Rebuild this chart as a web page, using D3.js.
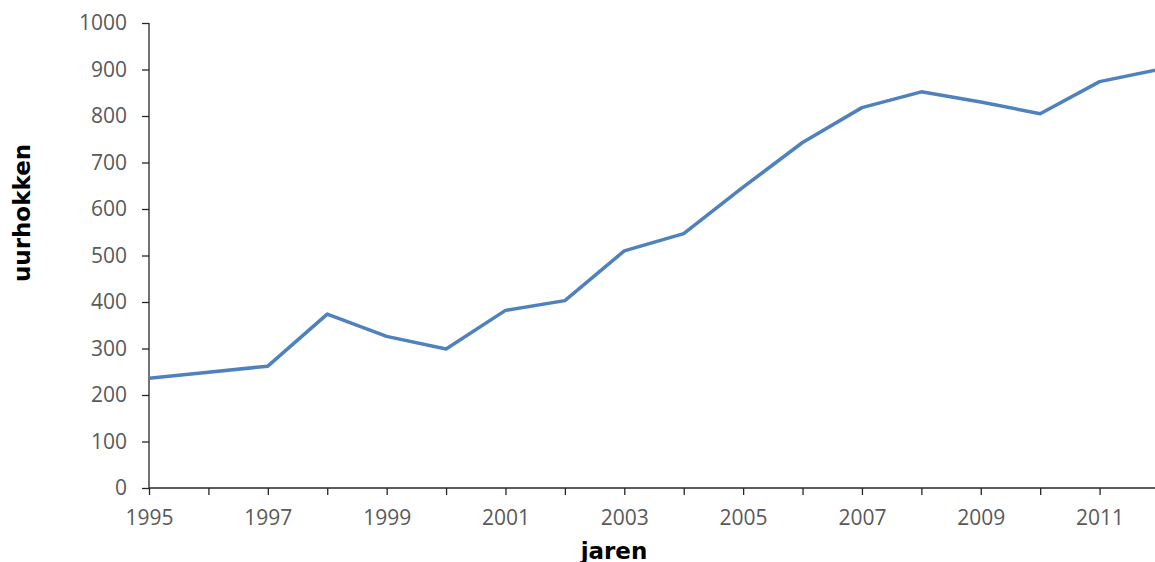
<!DOCTYPE html>
<html>
<head>
<meta charset="utf-8">
<script src="https://cdn.jsdelivr.net/npm/d3@7"></script>
<style>
  body { margin: 0; background: #fff; }
  .tick text { fill: #595959; font-family: "Open Sans", sans-serif; font-size: 21px; }
  .domain, .tick line { stroke: #262626; stroke-width: 1.3px; }
</style>
</head>
<body>
<div id="chart"></div>
<script>
var years = [1995, 1996, 1997, 1998, 1999, 2000, 2001, 2002, 2003,
    2004, 2005, 2006, 2007, 2008, 2009, 2010, 2011, 2012];
var uurhokken = [236, 249, 262, 374, 326, 299, 382, 403, 510,
    547, 647, 743, 818, 852, 830, 805, 874, 900];
var yTicks = [0, 100, 200, 300, 400, 500, 600, 700, 800, 900, 1000];
var xLabels = [1995, 1997, 1999, 2001, 2003, 2005, 2007, 2009, 2011];

var width = 1155, height = 562;
var plotLeft = 149, plotRight = 1159, plotTop = 23, plotBottom = 488;

var svg = d3.select("#chart").append("svg")
    .attr("width", width)
    .attr("height", height);

var x = d3.scaleLinear().domain([1995, 2012]).range([plotLeft, plotRight]);
var y = d3.scaleLinear().domain([0, 1000]).range([plotBottom, plotTop]);

// y axis
svg.append("g")
    .attr("transform", "translate(" + plotLeft + ",0)")
    .call(d3.axisLeft(y).tickValues(yTicks).tickSize(7).tickPadding(15).tickFormat(d3.format("d")))
    .call(function (g) { g.select(".domain").attr("d", "M0," + y(0) + "V" + y(1000)); });

// x axis, a tick every year, a label every other year
svg.append("g")
    .attr("transform", "translate(0," + plotBottom + ")")
    .call(d3.axisBottom(x).tickValues(years).tickSize(7).tickPadding(15)
        .tickFormat(function (d) { return xLabels.indexOf(d) >= 0 ? d : ""; }))
    .call(function (g) { g.select(".domain").attr("d", "M" + plotLeft + ",0H" + plotRight); });

var line = d3.line()
    .x(function (d, i) { return x(years[i]); })
    .y(function (d) { return y(d); });

svg.append("path")
    .datum(uurhokken)
    .attr("d", line)
    .attr("fill", "none")
    .attr("stroke", "#4f81bd")
    .attr("stroke-width", 3.5)
    .attr("stroke-linejoin", "round");

svg.append("text")
    .attr("x", 614)
    .attr("y", 559)
    .attr("text-anchor", "middle")
    .attr("font-family", "'DejaVu Sans', Verdana, sans-serif")
    .attr("font-weight", "bold")
    .attr("font-size", 23)
    .attr("fill", "#000")
    .text("jaren");

svg.append("text")
    .attr("transform", "translate(30,213) rotate(-90)")
    .attr("text-anchor", "middle")
    .attr("font-family", "'DejaVu Sans', Verdana, sans-serif")
    .attr("font-weight", "bold")
    .attr("font-size", 23)
    .attr("fill", "#000")
    .text("uurhokken");
</script>
</body>
</html>
